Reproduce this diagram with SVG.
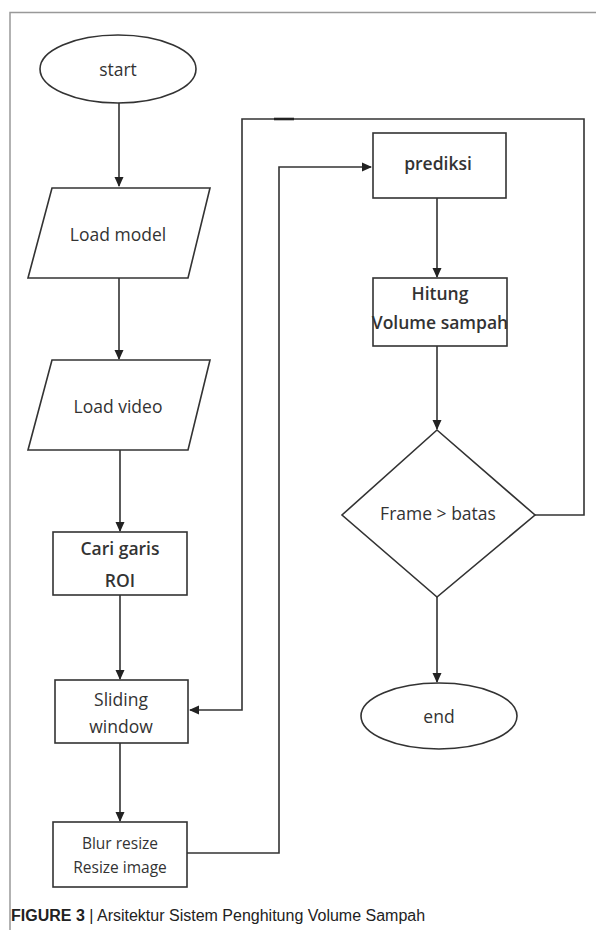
<svg xmlns="http://www.w3.org/2000/svg" width="596" height="930" viewBox="0 0 596 930">
<defs>
<marker id="ah" markerWidth="10" markerHeight="10" refX="9" refY="5" orient="auto" markerUnits="userSpaceOnUse">
<path d="M0,0.5 L10,5 L0,9.5 z" fill="#222"/>
</marker>
<style>
.shape{fill:#fff;stroke:#333;stroke-width:1.6}
.conn{fill:none;stroke:#333;stroke-width:1.6}
.t{font-family:"Open Sans","Liberation Sans",sans-serif;font-size:17.5px;fill:#333;text-anchor:middle;dominant-baseline:central}
.b{font-weight:600}
.s{font-size:15.5px}
.frame{fill:none;stroke:#999;stroke-width:1.5}
</style>
</defs>
<rect width="596" height="930" fill="#fff"/>
<path class="frame" d="M10,930 V12.5 H596"/>
<g id="connectors">
<path class="conn" d="M119,103 V186" marker-end="url(#ah)"/>
<path class="conn" d="M119,278 V359" marker-end="url(#ah)"/>
<path class="conn" d="M120,450 V531" marker-end="url(#ah)"/>
<path class="conn" d="M120,595 V679" marker-end="url(#ah)"/>
<path class="conn" d="M120,743 V821" marker-end="url(#ah)"/>
<path class="conn" d="M187,853 H279 V167 H371" marker-end="url(#ah)"/>
<path class="conn" d="M437,198 V277" marker-end="url(#ah)"/>
<path class="conn" d="M437,346 V429" marker-end="url(#ah)"/>
<path class="conn" d="M437,597 V682" marker-end="url(#ah)"/>
<path class="conn" d="M535,515 H584 V119 H242 V710 H190" marker-end="url(#ah)"/>
<path d="M274,119 H294" stroke="#222" stroke-width="2.6"/>
</g>
<g id="start">
<ellipse class="shape" cx="118" cy="69" rx="78" ry="34"/>
<text class="t" x="118" y="69">start</text>
</g>
<g id="load-model">
<polygon class="shape" points="52,188 210,188 188,278 28,278"/>
<text class="t" x="118" y="234">Load model</text>
</g>
<g id="load-video">
<polygon class="shape" points="52,360 210,360 188,450 28,450"/>
<text class="t" x="118" y="406">Load video</text>
</g>
<g id="cari-garis">
<rect class="shape" x="53" y="532" width="134" height="63"/>
<text class="t b" x="120" y="548">Cari garis</text>
<text class="t b" x="120" y="580">ROI</text>
</g>
<g id="sliding-window">
<rect class="shape" x="55" y="680" width="133" height="63"/>
<text class="t" x="121" y="699">Sliding</text>
<text class="t" x="121" y="726">window</text>
</g>
<g id="blur-resize">
<rect class="shape" x="53" y="822" width="134" height="65"/>
<text class="t s" x="120" y="843">Blur resize</text>
<text class="t s" x="120" y="867">Resize image</text>
</g>
<g id="prediksi">
<rect class="shape" x="373" y="133" width="133" height="65"/>
<text class="t b" x="438" y="163">prediksi</text>
</g>
<g id="hitung">
<rect class="shape" x="373" y="278" width="134" height="68"/>
<text class="t b" x="440" y="293">Hitung</text>
<text class="t b" x="440" y="322" font-size="17px">Volume sampah</text>
</g>
<g id="decision">
<polygon class="shape" points="437,430 535,515 437,597 342,515"/>
<text class="t" x="438" y="513" font-size="19px">Frame &gt; batas</text>
</g>
<g id="end">
<ellipse class="shape" cx="439" cy="716" rx="78" ry="33"/>
<text class="t" x="439" y="716">end</text>
</g>
<text x="11" y="921" font-family="Liberation Sans, Arial, sans-serif" font-size="16" fill="#222"><tspan font-weight="bold">FIGURE 3</tspan> | Arsitektur Sistem Penghitung Volume Sampah</text>
</svg>
